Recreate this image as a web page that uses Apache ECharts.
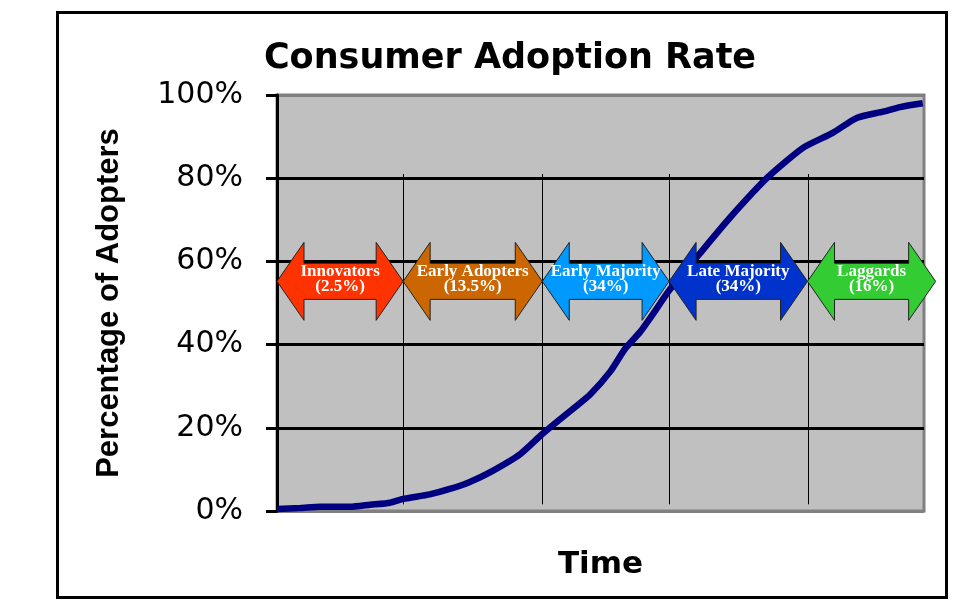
<!DOCTYPE html>
<html>
<head>
<meta charset="utf-8">
<script src="https://cdn.jsdelivr.net/npm/echarts@6/dist/echarts.min.js"></script>
<style>
html,body{margin:0;padding:0;background:#fff;}
#chart{width:977px;height:614px;}
</style>
</head>
<body>
<div id="chart"></div>
<script>
// ---- data ----
const timePoints   = [0, 3.6, 6.6, 11.3, 14.4, 17.5, 19.5, 23.6, 26.7, 29.8, 32.9, 37.6, 41.0, 43.7, 46.1, 48.4, 51.5, 53.8, 56.1, 58.4, 60.6, 65.4, 70.0, 75.9, 81.3, 85.9, 89.6, 93.7, 96.3, 99.8];
const adoptionPct  = [0.5, 0.7, 1.0, 1.0, 1.5, 2.0, 2.9, 4.0, 5.3, 7.0, 9.3, 13.7, 18.5, 22.0, 25.0, 28.0, 33.5, 39.0, 43.0, 48.0, 53.0, 62.0, 70.5, 80.3, 87.3, 90.9, 94.5, 96.0, 97.1, 98.0];
const segmentNames  = ['Innovators', 'Early Adopters', 'Early Majority', 'Late Majority', 'Laggards'];
const segmentShares = ['2.5%', '13.5%', '34%', '34%', '16%'];
const segmentBounds = [0, 19.5, 41.0, 60.6, 82.0, 101.8];
const yTickValues   = [0, 20, 40, 60, 80, 100];
const dividerTimes  = [19.5, 41.0, 60.6, 82.0];

// ---- styles ----
const segmentColors = ['#FF3300', '#CC6600', '#0099FF', '#0033CC', '#33CC33'];

const arrowData = segmentNames.map((n, i) => [segmentBounds[i], segmentBounds[i + 1], n, segmentShares[i]]);

const chart = echarts.init(document.getElementById('chart'));

const option = {
  animation: false,
  backgroundColor: '#ffffff',
  title: {
    text: 'Consumer Adoption Rate',
    left: 505,
    top: 36,
    textAlign: 'center',
    textStyle: { fontFamily: 'DejaVu Sans', fontWeight: 'bold', fontSize: 35, color: '#000' }
  },
  graphic: [{
    type: 'rect',
    shape: { x: 57.5, y: 12.5, width: 889, height: 585 },
    style: { fill: 'none', stroke: '#000', lineWidth: 3 },
    z: -1
  }],
  grid: {
    left: 277, top: 95, right: 53, bottom: 103,
    show: true,
    backgroundColor: '#C0C0C0',
    borderColor: '#808080',
    borderWidth: 3
  },
  xAxis: {
    type: 'value',
    min: 0, max: 100,
    name: 'Time',
    nameLocation: 'middle',
    nameGap: 38,
    nameTextStyle: { fontFamily: 'DejaVu Sans', fontWeight: 'bold', fontSize: 31, color: '#000' },
    axisLine: { show: false },
    axisTick: { show: false },
    axisLabel: { show: false },
    splitLine: { show: false }
  },
  yAxis: {
    type: 'value',
    min: 0, max: 100, interval: 20,
    name: 'Percentage of Adopters',
    nameLocation: 'middle',
    nameRotate: 90,
    nameGap: 152,
    nameTextStyle: { fontFamily: 'Liberation Sans', fontWeight: 'bold', fontSize: 31, color: '#000' },
    axisLine: { show: true, lineStyle: { color: '#000', width: 3 } },
    axisTick: { show: true, inside: false, length: 11, lineStyle: { color: '#000', width: 3 } },
    axisLabel: {
      margin: 34,
      fontFamily: 'DejaVu Sans', fontSize: 30, color: '#000',
      customValues: yTickValues,
      formatter: v => v + '%'
    },
    splitLine: { show: true, lineStyle: { color: ['#808080', '#000', '#000', '#000', '#000', '#808080'], width: 3 } }
  },
  series: [
    {
      type: 'custom',
      name: 'dividers',
      z: 1,
      silent: true,
      data: dividerTimes.map(t => [t]),
      renderItem: function (params, api) {
        const top = api.coord([api.value(0), 81]);
        const bot = api.coord([api.value(0), 1.6]);
        return {
          type: 'line',
          shape: { x1: Math.round(top[0]) + 0.5, y1: top[1], x2: Math.round(top[0]) + 0.5, y2: bot[1] },
          style: { stroke: '#000', lineWidth: 1 }
        };
      }
    },
    {
      type: 'line',
      name: 'Adoption',
      z: 2,
      data: timePoints.map((t, i) => [t, adoptionPct[i]]),
      showSymbol: false,
      symbol: 'none',
      smooth: 0.2,
      lineStyle: { color: '#000080', width: 6.5 }
    },
    {
      type: 'custom',
      name: 'segments',
      z: 3,
      silent: true,
      data: arrowData,
      renderItem: function (params, api) {
        const centerVal = 55.2;
        const a = api.coord([api.value(0), centerVal]);
        const b = api.coord([api.value(1), centerVal]);
        const x0 = a[0], x1 = b[0], cy = a[1];
        const h = 27, H = 39, S = 18;
        const pts = [
          [x0, cy], [x0 + h, cy - H], [x0 + h, cy - S], [x1 - h, cy - S], [x1 - h, cy - H],
          [x1, cy], [x1 - h, cy + H], [x1 - h, cy + S], [x0 + h, cy + S], [x0 + h, cy + H]
        ];
        const idx = params.dataIndex;
        return {
          type: 'group',
          children: [
            {
              type: 'polygon',
              shape: { points: pts },
              style: { fill: segmentColors[idx], stroke: '#222', lineWidth: 1 }
            },
            {
              type: 'text',
              x: (x0 + x1) / 2,
              y: cy - 2,
              style: {
                text: arrowData[idx][2] + '\n(' + arrowData[idx][3] + ')',
                fill: '#fff',
                font: 'bold 17px "Liberation Serif", serif',
                lineHeight: 15,
                align: 'center',
                verticalAlign: 'middle',
                textShadowColor: 'rgba(40,40,40,0.9)',
                textShadowOffsetX: 1,
                textShadowOffsetY: 1,
                textShadowBlur: 0
              }
            }
          ]
        };
      }
    }
  ]
};
chart.setOption(option);
</script>
</body>
</html>
